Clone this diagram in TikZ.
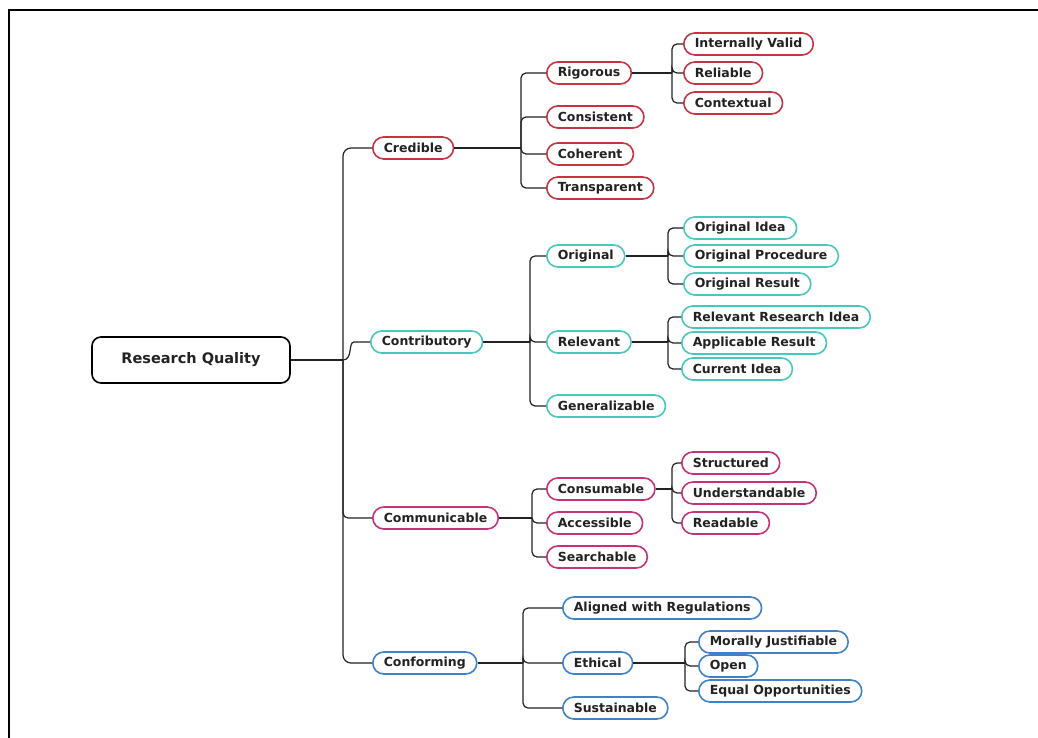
\documentclass[tikz,border=0pt]{standalone}
\usepackage{fontspec}
\setmainfont{DejaVu Sans}
\usepackage{tikz}
\definecolor{credred}{RGB}{198, 52, 66}
\definecolor{contteal}{RGB}{72, 200, 186}
\definecolor{commmag}{RGB}{196, 50, 122}
\definecolor{confblue}{RGB}{62, 130, 200}
\definecolor{inkgray}{RGB}{34, 34, 34}

\begin{document}
\begin{tikzpicture}[x=1pt, y=-1pt,
  pill/.style={draw, line width=1.6pt, rounded corners=11pt, minimum height=22pt,
    inner xsep=11pt, inner ysep=0pt, anchor=west, fill=white, text=inkgray,
    font=\bfseries\fontsize{12.5}{15}\selectfont},
  link/.style={line width=1.2pt, inkgray, rounded corners=5pt},
  boldlink/.style={line width=2.6pt, inkgray}]
\useasboundingbox (0,0) rectangle (1038,738);
\draw[line width=2.6pt] (9,738) -- (9,10) -- (1038,10);

% root and main branches
\node[draw, line width=1.6pt, rounded corners=9pt, minimum width=198pt, minimum height=46pt,
  text=inkgray, font=\bfseries\fontsize{14.5}{17}\selectfont] (rq) at (191,360) {Research Quality};
\node[pill, draw=credred] (cred) at (372,148) {Credible};
\node[pill, draw=contteal] (contr) at (370,342) {Contributory};
\node[pill, draw=commmag] (comm) at (372,518) {Communicable};
\node[pill, draw=confblue] (conf) at (372,663) {Conforming};

% second level
\foreach \n/\y/\t in {rig/73/Rigorous, cons/117/Consistent, coh/154/Coherent, trans/188/Transparent}
  \node[pill, draw=credred] (\n) at (546,\y) {\t};
\foreach \n/\y/\t in {orig/256/Original, relev/342/Relevant, gen/406/Generalizable}
  \node[pill, draw=contteal] (\n) at (546,\y) {\t};
\foreach \n/\y/\t in {consu/489/Consumable, acc/523/Accessible, sea/557/Searchable}
  \node[pill, draw=commmag] (\n) at (546,\y) {\t};
\foreach \n/\y/\t in {align/608/Aligned with Regulations, eth/663/Ethical, sust/708/Sustainable}
  \node[pill, draw=confblue] (\n) at (562,\y) {\t};

% third level
\foreach \n/\y/\t in {intv/44/Internally Valid, reli/73/Reliable, ctx/103/Contextual}
  \node[pill, draw=credred] (\n) at (683,\y) {\t};
\foreach \n/\y/\t in {oidea/228/Original Idea, oproc/256/Original Procedure, ores/284/Original Result}
  \node[pill, draw=contteal] (\n) at (683,\y) {\t};
\foreach \n/\y/\t in {rri/317/Relevant Research Idea, appr/343/Applicable Result, cidea/369/Current Idea}
  \node[pill, draw=contteal] (\n) at (681,\y) {\t};
\foreach \n/\y/\t in {struc/463/Structured, under/493/Understandable, read/523/Readable}
  \node[pill, draw=commmag] (\n) at (681,\y) {\t};
\foreach \n/\y/\t in {moral/642/Morally Justifiable, open/666/Open, equal/691/Equal Opportunities}
  \node[pill, draw=confblue] (\n) at (698,\y) {\t};

% junctions
\coordinate (trunk) at (343,360);
\coordinate (jcred) at (521,148);
\coordinate (jcontr) at (530,342);
\coordinate (jcomm) at (532,518);
\coordinate (jconf) at (523,663);
\coordinate (jrig) at (672,73);
\coordinate (jorig) at (668,256);
\coordinate (jrelev) at (668,342);
\coordinate (jconsu) at (672,489);
\coordinate (jeth) at (685,663);

% connectors
\draw[boldlink] (rq.east) -- (trunk);
\draw[link, rounded corners=8pt] (cred.west) -| (trunk) |- (conf.west);
\draw[link] (trunk) |- (comm.west);
\draw[link] (trunk) .. controls (353,360) and (348,342) .. (359,342) -- (contr.west);

\draw[link] (cred.east) -- (jcred);
\draw[boldlink] (contr.east) -- (jcontr);
\draw[link] (comm.east) -- (jcomm);
\draw[link] (conf.east) -- (jconf);
\draw[boldlink] (rig.east) -- (jrig);
\draw[link] (orig.east) -- (jorig);
\draw[boldlink] (relev.east) -- (jrelev);
\draw[link] (consu.east) -- (jconsu);
\draw[link] (eth.east) -- (jeth);

\foreach \c in {rig, cons, coh, trans} \draw[link] (jcred) |- (\c.west);
\foreach \c in {orig, relev, gen} \draw[link] (jcontr) |- (\c.west);
\foreach \c in {consu, acc, sea} \draw[link] (jcomm) |- (\c.west);
\foreach \c in {align, eth, sust} \draw[link] (jconf) |- (\c.west);
\foreach \c in {intv, reli, ctx} \draw[link] (jrig) |- (\c.west);
\foreach \c in {oidea, oproc, ores} \draw[link] (jorig) |- (\c.west);
\foreach \c in {rri, appr, cidea} \draw[link] (jrelev) |- (\c.west);
\foreach \c in {struc, under, read} \draw[link] (jconsu) |- (\c.west);
\foreach \c in {moral, open, equal} \draw[link] (jeth) |- (\c.west);
\end{tikzpicture}
\end{document}
